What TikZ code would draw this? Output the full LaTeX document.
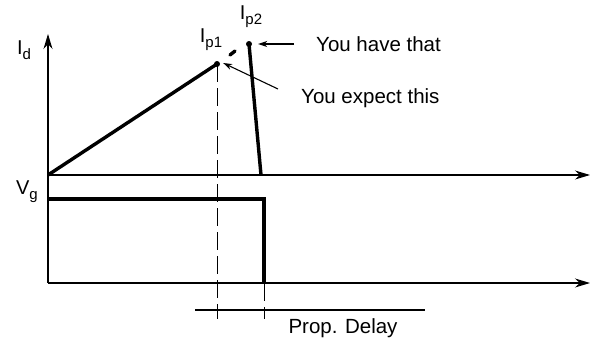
\documentclass[tikz,border=0pt]{standalone}
\usepackage{fontspec}
\setmainfont{Liberation Sans}
\usetikzlibrary{arrows.meta,positioning}
\newcommand\lowsub[1]{\raisebox{-0.45ex}{\fontsize{15}{15}\selectfont #1}}
\begin{document}
\begin{tikzpicture}[x=1pt,y=-1pt,every node/.style={font=\fontsize{20}{20}\selectfont,inner sep=0pt},
  ax/.style={line width=1.1pt,-{Stealth[length=15pt,width=9pt]}},
  thin/.style={line width=1.1pt},
  sig/.style={line width=3.4pt},
  dsh/.style={line width=1pt,dash pattern=on 18pt off 6pt},
  pt/.style={circle,fill,inner sep=0pt,minimum size=6pt},
  lbl/.style={font=\fontsize{20.5}{20}\selectfont,anchor=west},
  >={Stealth[length=9pt,width=6pt]}]
\useasboundingbox (0,0) rectangle (592,343);
% axes
\coordinate (o) at (48,175);
\coordinate (yt) at (48,34);
\coordinate (xt) at (590,175);
\coordinate (o2) at (48,283);
\coordinate (xt2) at (590,283);
\draw[ax] (o)--(yt);
\draw[ax] (o)--(xt);
\draw[thin] (o)--(o2);
\draw[ax] (o2)--(xt2);
\node at (24,50) {I\lowsub{d}};
\node at (27,192) {V\lowsub{g}};
% current
\node[pt] (p1) at (217,64) {};
\node[pt] (p2) at (249,44) {};
\coordinate (f) at (261,175);
\draw[sig] (o)--(p1.center);
\draw[sig] (p2.center)--(f);
\draw[line width=3.4pt,line cap=round] (230,55)--(235,51);
\node at (211,40) {I\lowsub{p1}};
\node at (251,17) {I\lowsub{p2}};
% gate
\coordinate (g1) at (48,199);
\coordinate (g2) at (264,199);
\coordinate (g3) at (264,283);
\draw[sig] (g1)--(g2)--(g3);
% delay
\coordinate (d1) at (217,319);
\coordinate (d2) at (264,319);
\draw[dsh] (p1.center)--(d1);
\draw[dsh] (g3)--(d2);
\coordinate (m1) at (195,310);
\coordinate (m2) at (425,310);
\draw[thin] (m1)--(m2);
\node[lbl,anchor=center] (pd) at (343,328) {Prop. Delay};
% notes
\node[lbl] (have) at (316,44) {You have that};
\node[lbl] (exp) at (301,98) {You expect this};
\draw[thin,->] ([xshift=-22pt]have.west)--([xshift=6pt]p2.east);
\draw[thin,->] (278,89)--([shift={(3pt,1pt)}]p1.east);
\end{tikzpicture}
\end{document}
